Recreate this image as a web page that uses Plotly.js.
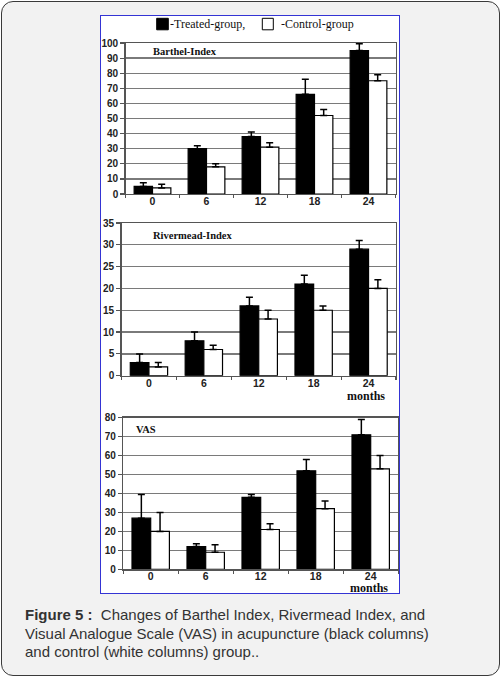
<!DOCTYPE html>
<html>
<head>
<meta charset="utf-8">
<script src="https://cdn.plot.ly/plotly-3.0.1.min.js"></script>
<style>
  html, body { margin: 0; padding: 0; background: #fff; }
  #card {
    position: absolute; left: 1px; top: 1px; width: 497px; height: 673px;
    background: #f2f2f2; border: 1px solid #3a3a3a; border-radius: 12px;
  }
  #frame {
    position: absolute; left: 100px; top: 15px; width: 298px; height: 577px;
    border: 1px solid #3434d4; background: #fff;
  }
  #chart { position: absolute; left: 101px; top: 16px; width: 298px; height: 584px; }
  #caption {
    position: absolute; left: 25px; top: 606px;
    font-family: 'Liberation Sans', Arial, sans-serif; font-size: 15px;
    line-height: 18.5px; color: #333; white-space: nowrap;
  }
</style>
</head>
<body>
<div id="card"></div>
<div id="frame"></div>
<div id="chart"></div>
<div id="caption"><b>Figure 5 :</b>&nbsp; Changes of Barthel Index, Rivermead Index, and<br>Visual Analogue Scale (VAS) in acupuncture (black columns)<br>and control (white columns) group..</div>
<script>
const months = ['0', '6', '12', '18', '24'];

const barthelTreated = [5, 30, 38, 66, 95];
const barthelTreatedErr = [2.5, 2, 3, 10, 4.5];
const barthelControl = [4, 18, 31, 52, 75];
const barthelControlErr = [2.5, 2, 3, 4, 4];

const rivermeadTreated = [3, 8, 16, 21, 29];
const rivermeadTreatedErr = [2, 2, 2, 2, 2];
const rivermeadControl = [2, 6, 13, 15, 20];
const rivermeadControlErr = [1, 1, 2, 1, 2];

const vasTreated = [27, 12, 38, 52, 71];
const vasTreatedErr = [12.5, 1.5, 1.5, 6, 8];
const vasControl = [20, 9, 21, 32, 53];
const vasControlErr = [10, 4, 3, 4, 7];

// pixel -> paper fraction, measured against the chart box (origin 101,16)
const W = 298, H = 584, OX = 101, OY = 16;
const fx = x => (x - OX) / W;
const fy = y => 1 - (y - OY) / H;

const SANS = 'Liberation Sans, Arial, sans-serif';
const SERIF = 'Liberation Serif, Times New Roman, serif';
const LINE = '#555';

function bar(x, y, err, n, treated) {
  return {
    type: 'bar',
    x, y,
    xaxis: n === 1 ? 'x' : 'x' + n,
    yaxis: n === 1 ? 'y' : 'y' + n,
    marker: {
      color: treated ? '#000' : '#fff',
      line: { color: '#000', width: 1.2 },
    },
    error_y: {
      type: 'data', symmetric: false,
      array: err, arrayminus: err.map(() => 0),
      color: '#000', thickness: 1.5, width: 3.5,
    },
    showlegend: false,
    hoverinfo: 'skip',
  };
}

function xAxis(left, right, anchor) {
  return {
    type: 'category',
    domain: [fx(left), fx(right)],
    anchor,
    tickson: 'boundaries',
    ticks: 'outside', ticklen: 3, tickcolor: LINE, tickwidth: 1.2,
    ticklabelstandoff: -3,
    showline: true, linecolor: LINE, linewidth: 1.3, mirror: true,
    showgrid: false,
    tickfont: { family: SANS, size: 10.5, color: '#222', weight: 'bold' },
    fixedrange: true,
  };
}

function yAxis(range, dtick, top, bottom, anchor) {
  return {
    domain: [fy(bottom), fy(top)],
    anchor,
    range, dtick,
    showgrid: true, gridcolor: '#7a7a7a', gridwidth: 1.3,
    showline: true, linecolor: LINE, linewidth: 1.3, mirror: true,
    ticks: 'outside', ticklen: 4, tickcolor: LINE, tickwidth: 1.2,
    zeroline: false,
    tickfont: { family: SANS, size: 10, color: '#222', weight: 'bold' },
    fixedrange: true,
  };
}

const traces = [
  bar(months, barthelTreated, barthelTreatedErr, 1, true),
  bar(months, barthelControl, barthelControlErr, 1, false),
  bar(months, rivermeadTreated, rivermeadTreatedErr, 2, true),
  bar(months, rivermeadControl, rivermeadControlErr, 2, false),
  bar(months, vasTreated, vasTreatedErr, 3, true),
  bar(months, vasControl, vasControlErr, 3, false),
];

function label(text, x, y, opts) {
  return Object.assign({
    text, xref: 'paper', yref: 'paper', x: fx(x), y: fy(y),
    xanchor: 'left', yanchor: 'middle', showarrow: false,
    font: { family: SERIF, size: 10.5, color: '#111', weight: 'bold' },
  }, opts || {});
}

const monthsFont = { family: SERIF, size: 12, color: '#111', weight: 'bold' };

const annotations = [
  label('-Treated-group,', 168, 24, { font: { family: SERIF, size: 12, color: '#111' } }),
  label('-Control-group', 278.5, 24, { font: { family: SERIF, size: 12, color: '#111' } }),
  label('Barthel-Index', 150.5, 51.7),
  label('Rivermead-Index', 150.5, 235.7),
  label('VAS', 134, 430),
  label('months', 366, 403.5, { xanchor: 'center', yanchor: 'bottom', borderpad: 0, font: monthsFont }),
  label('months', 368.5, 596, { xanchor: 'center', yanchor: 'bottom', borderpad: 0, font: monthsFont }),
];

const shapes = [
  { type: 'rect', xref: 'paper', yref: 'paper', x0: fx(156.7), x1: fx(168.3), y0: fy(29.8), y1: fy(18.3),
    fillcolor: '#000', line: { color: '#000', width: 1 } },
  { type: 'rect', xref: 'paper', yref: 'paper', x0: fx(262.3), x1: fx(273.3), y0: fy(29.8), y1: fy(18.3),
    fillcolor: '#fff', line: { color: '#000', width: 1 } },
];

Plotly.newPlot('chart', traces, {
  width: W, height: H,
  margin: { t: 0, l: 0, r: 0, b: 0 },
  paper_bgcolor: 'rgba(0,0,0,0)',
  plot_bgcolor: '#fff',
  barmode: 'group',
  bargap: 0.32,
  bargroupgap: 0,
  showlegend: false,
  xaxis: xAxis(125.5, 395.5, 'y'),
  yaxis: yAxis([0, 100], 10, 43, 194, 'x'),
  xaxis2: xAxis(121.5, 396, 'y2'),
  yaxis2: yAxis([0, 35], 5, 223, 375.7, 'x2'),
  xaxis3: xAxis(123.2, 398.2, 'y3'),
  yaxis3: yAxis([0, 80], 10, 417.7, 569.3, 'x3'),
  annotations,
  shapes,
}, { displayModeBar: false, staticPlot: true });
</script>
</body>
</html>
